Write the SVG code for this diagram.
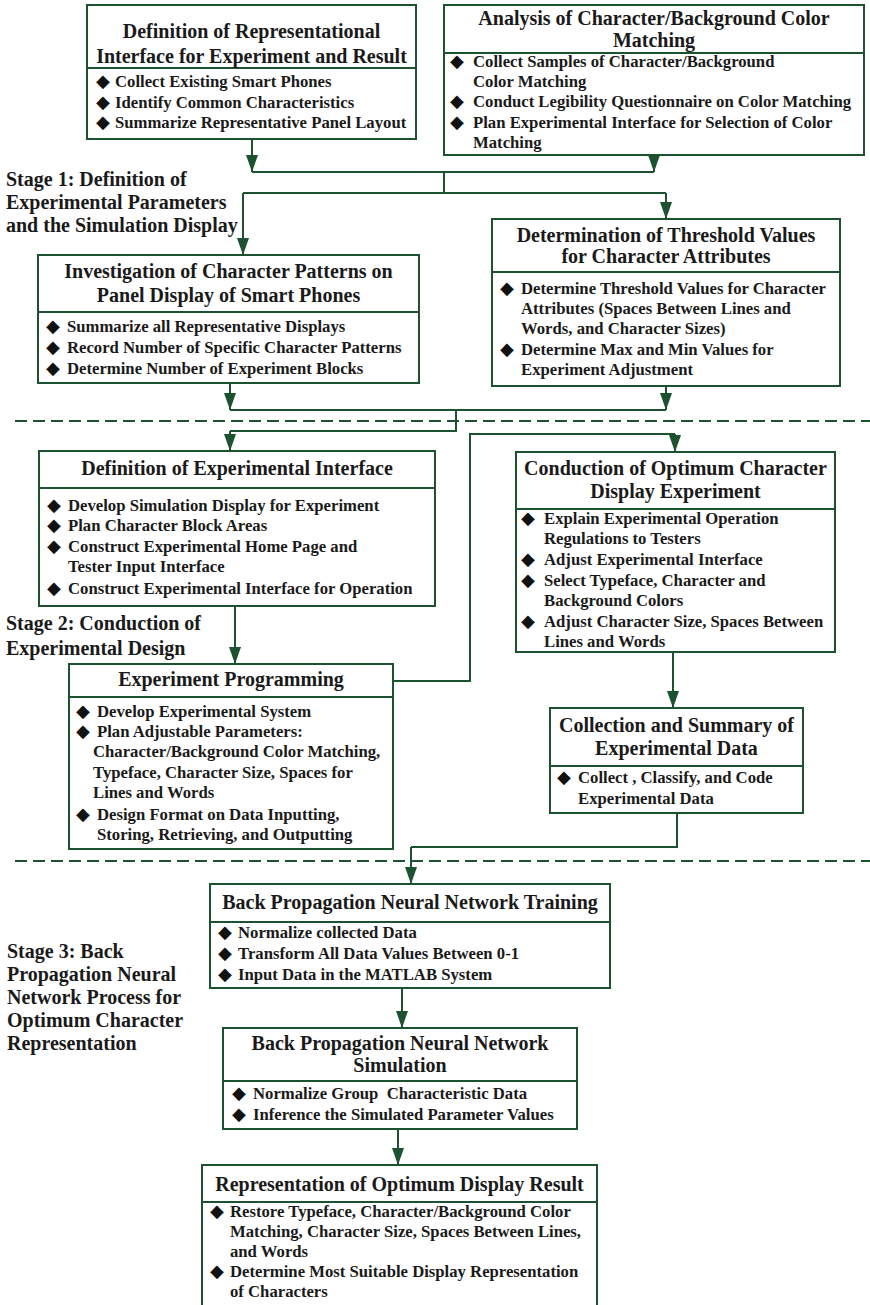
<svg xmlns="http://www.w3.org/2000/svg" width="870" height="1305" viewBox="0 0 870 1305">
<style>
.box{fill:#fff;stroke:#1d5230;stroke-width:2}
.div{stroke:#1d5230;stroke-width:2}
.t{font-family:"Liberation Serif","Times New Roman",serif;font-weight:bold;font-size:20px;fill:#1a1a1a;text-anchor:middle}
.s{font-family:"Liberation Serif","Times New Roman",serif;font-weight:bold;font-size:20px;fill:#1a1a1a}
.b{font-family:"Liberation Serif","Times New Roman",serif;font-weight:bold;font-size:16.7px;fill:#1a1a1a}
.d{font-family:"DejaVu Sans",sans-serif;font-size:18px;fill:#111}
.c{fill:none;stroke:#1d5230;stroke-width:2}
.a{fill:none;stroke:#1d5230;stroke-width:2;marker-end:url(#ah)}
.dash{fill:none;stroke:#1d5230;stroke-width:2;stroke-dasharray:12 6}
</style>
<defs>
<marker id="ah" markerUnits="userSpaceOnUse" markerWidth="18" markerHeight="13" refX="17" refY="6" orient="auto">
<path d="M0,0 L17,6 L0,12 z" fill="#1d5230"/>
</marker>
</defs>
<rect width="870" height="1305" fill="#fff"/>

<g id="connectors">
<path class="a" d="M252,139 V172"/>
<path class="a" d="M654,155 V172"/>
<path class="c" d="M252,172 H654"/>
<path class="c" d="M444,172 V193"/>
<path class="c" d="M243,193 H666"/>
<path class="a" d="M243,193 V255"/>
<path class="a" d="M666,193 V219"/>
<path class="a" d="M230,383 V410"/>
<path class="a" d="M666,386 V410"/>
<path class="c" d="M230,410 H666"/>
<path class="c" d="M456,410 V431 H230"/>
<path class="a" d="M230,431 V451"/>
<path class="a" d="M235,606 V664"/>
<path class="c" d="M393,681 H470 V434 H675"/>
<path class="a" d="M675,434 V452"/>
<path class="a" d="M673,652 V708"/>
<path class="c" d="M677,813 V847 H411"/>
<path class="a" d="M411,847 V884"/>
<path class="a" d="M402,988 V1028"/>
<path class="a" d="M398,1129 V1165"/>
<path class="dash" d="M15,421 H870"/>
<path class="dash" d="M15,861 H870"/>
</g>

<g id="stage1">
<text class="s" x="6" y="186">Stage 1: Definition of</text>
<text class="s" x="6" y="209">Experimental Parameters</text>
<text class="s" x="6" y="232">and the Simulation Display</text>
</g>
<g id="stage2">
<text class="s" x="6" y="630">Stage 2: Conduction of</text>
<text class="s" x="6" y="655">Experimental Design</text>
</g>
<g id="stage3">
<text class="s" x="7" y="958">Stage 3: Back</text>
<text class="s" x="7" y="981">Propagation Neural</text>
<text class="s" x="7" y="1004">Network Process for</text>
<text class="s" x="7" y="1027">Optimum Character</text>
<text class="s" x="7" y="1050">Representation</text>
</g>

<g id="node-representational-interface">
<rect class="box" x="87" y="5" width="329" height="134"/>
<line class="div" x1="87" y1="68" x2="416" y2="68"/>
<text class="t" x="251.5" y="38">Definition of Representational</text>
<text class="t" x="251.5" y="63">Interface for Experiment and Result</text>
<text class="d" x="96" y="87">◆</text><text class="b" x="115" y="87">Collect Existing Smart Phones</text>
<text class="d" x="96" y="107.5">◆</text><text class="b" x="115" y="107.5">Identify Common Characteristics</text>
<text class="d" x="96" y="128">◆</text><text class="b" x="115" y="128">Summarize Representative Panel Layout</text>
</g>

<g id="node-color-matching">
<rect class="box" x="444" y="5" width="420" height="150"/>
<line class="div" x1="444" y1="53" x2="864" y2="53"/>
<text class="t" x="654" y="25">Analysis of Character/Background Color</text>
<text class="t" x="654" y="47">Matching</text>
<text class="d" x="450" y="67">◆</text><text class="b" x="473" y="67">Collect Samples of Character/Background</text>
<text class="b" x="473" y="87">Color Matching</text>
<text class="d" x="450" y="107">◆</text><text class="b" x="473" y="107">Conduct Legibility Questionnaire on Color Matching</text>
<text class="d" x="450" y="128">◆</text><text class="b" x="473" y="128">Plan Experimental Interface for Selection of Color</text>
<text class="b" x="473" y="148">Matching</text>
</g>

<g id="node-character-patterns">
<rect class="box" x="38" y="255" width="381" height="128"/>
<line class="div" x1="38" y1="312" x2="419" y2="312"/>
<text class="t" x="228.5" y="278">Investigation of Character Patterns on</text>
<text class="t" x="228.5" y="302">Panel Display of Smart Phones</text>
<text class="d" x="46" y="332">◆</text><text class="b" x="67" y="332">Summarize all Representative Displays</text>
<text class="d" x="46" y="353">◆</text><text class="b" x="67" y="353">Record Number of Specific Character Patterns</text>
<text class="d" x="46" y="374">◆</text><text class="b" x="67" y="374">Determine Number of Experiment Blocks</text>
</g>

<g id="node-threshold-values">
<rect class="box" x="492" y="219" width="348" height="167"/>
<line class="div" x1="492" y1="272" x2="840" y2="272"/>
<text class="t" x="666" y="242">Determination of Threshold Values</text>
<text class="t" x="666" y="263">for Character Attributes</text>
<text class="d" x="500" y="294">◆</text><text class="b" x="521" y="294">Determine Threshold Values for Character</text>
<text class="b" x="521" y="314">Attributes (Spaces Between Lines and</text>
<text class="b" x="521" y="334">Words, and Character Sizes)</text>
<text class="d" x="500" y="355">◆</text><text class="b" x="521" y="355">Determine Max and Min Values for</text>
<text class="b" x="521" y="375">Experiment Adjustment</text>
</g>

<g id="node-experimental-interface">
<rect class="box" x="39" y="451" width="396" height="155"/>
<line class="div" x1="39" y1="488" x2="435" y2="488"/>
<text class="t" x="237" y="475">Definition of Experimental Interface</text>
<text class="d" x="47" y="511">◆</text><text class="b" x="68" y="511">Develop Simulation Display for Experiment</text>
<text class="d" x="47" y="531">◆</text><text class="b" x="68" y="531">Plan Character Block Areas</text>
<text class="d" x="47" y="552">◆</text><text class="b" x="68" y="552">Construct Experimental Home Page and</text>
<text class="b" x="68" y="572">Tester Input Interface</text>
<text class="d" x="47" y="594">◆</text><text class="b" x="68" y="594">Construct Experimental Interface for Operation</text>
</g>

<g id="node-display-experiment">
<rect class="box" x="516" y="452" width="319" height="200"/>
<line class="div" x1="516" y1="509" x2="835" y2="509"/>
<text class="t" x="675.5" y="475">Conduction of Optimum Character</text>
<text class="t" x="675.5" y="498">Display Experiment</text>
<text class="d" x="521" y="524">◆</text><text class="b" x="544" y="524">Explain Experimental Operation</text>
<text class="b" x="544" y="544">Regulations to Testers</text>
<text class="d" x="521" y="565">◆</text><text class="b" x="544" y="565">Adjust Experimental Interface</text>
<text class="d" x="521" y="586">◆</text><text class="b" x="544" y="586">Select Typeface, Character and</text>
<text class="b" x="544" y="606">Background Colors</text>
<text class="d" x="521" y="627">◆</text><text class="b" x="544" y="627">Adjust Character Size, Spaces Between</text>
<text class="b" x="544" y="647">Lines and Words</text>
</g>

<g id="node-experiment-programming">
<rect class="box" x="69" y="664" width="324" height="185"/>
<line class="div" x1="69" y1="697" x2="393" y2="697"/>
<text class="t" x="231" y="686">Experiment Programming</text>
<text class="d" x="76" y="717">◆</text><text class="b" x="97" y="717">Develop Experimental System</text>
<text class="d" x="76" y="737">◆</text><text class="b" x="97" y="737">Plan Adjustable Parameters:</text>
<text class="b" x="93" y="757">Character/Background Color Matching,</text>
<text class="b" x="93" y="778">Typeface, Character Size, Spaces for</text>
<text class="b" x="93" y="798">Lines and Words</text>
<text class="d" x="76" y="820">◆</text><text class="b" x="97" y="820">Design Format on Data Inputting,</text>
<text class="b" x="97" y="840">Storing, Retrieving, and Outputting</text>
</g>

<g id="node-data-collection">
<rect class="box" x="550" y="708" width="253" height="105"/>
<line class="div" x1="550" y1="766" x2="803" y2="766"/>
<text class="t" x="676.5" y="732">Collection and Summary of</text>
<text class="t" x="676.5" y="755">Experimental Data</text>
<text class="d" x="557" y="783">◆</text><text class="b" x="578" y="783">Collect , Classify, and Code</text>
<text class="b" x="578" y="804">Experimental Data</text>
</g>

<g id="node-bpnn-training">
<rect class="box" x="210" y="884" width="400" height="104"/>
<line class="div" x1="210" y1="922" x2="610" y2="922"/>
<text class="t" x="410" y="909">Back Propagation Neural Network Training</text>
<text class="d" x="218" y="938">◆</text><text class="b" x="238" y="938">Normalize collected Data</text>
<text class="d" x="218" y="959">◆</text><text class="b" x="238" y="959">Transform All Data Values Between 0-1</text>
<text class="d" x="218" y="980">◆</text><text class="b" x="238" y="980">Input Data in the MATLAB System</text>
</g>

<g id="node-bpnn-simulation">
<rect class="box" x="223" y="1028" width="354" height="101"/>
<line class="div" x1="223" y1="1081" x2="577" y2="1081"/>
<text class="t" x="400" y="1050">Back Propagation Neural Network</text>
<text class="t" x="400" y="1072">Simulation</text>
<text class="d" x="232" y="1099">◆</text><text class="b" x="253" y="1099" xml:space="preserve">Normalize Group  Characteristic Data</text>
<text class="d" x="232" y="1120">◆</text><text class="b" x="253" y="1120">Inference the Simulated Parameter Values</text>
</g>

<g id="node-optimum-result">
<rect class="box" x="202" y="1165" width="395" height="150"/>
<line class="div" x1="202" y1="1202" x2="597" y2="1202"/>
<text class="t" x="399.5" y="1191">Representation of Optimum Display Result</text>
<text class="d" x="210" y="1217">◆</text><text class="b" x="230" y="1217">Restore Typeface, Character/Background Color</text>
<text class="b" x="230" y="1237">Matching, Character Size, Spaces Between Lines,</text>
<text class="b" x="230" y="1257">and Words</text>
<text class="d" x="210" y="1277">◆</text><text class="b" x="230" y="1277">Determine Most Suitable Display Representation</text>
<text class="b" x="230" y="1297">of Characters</text>
</g>
</svg>
